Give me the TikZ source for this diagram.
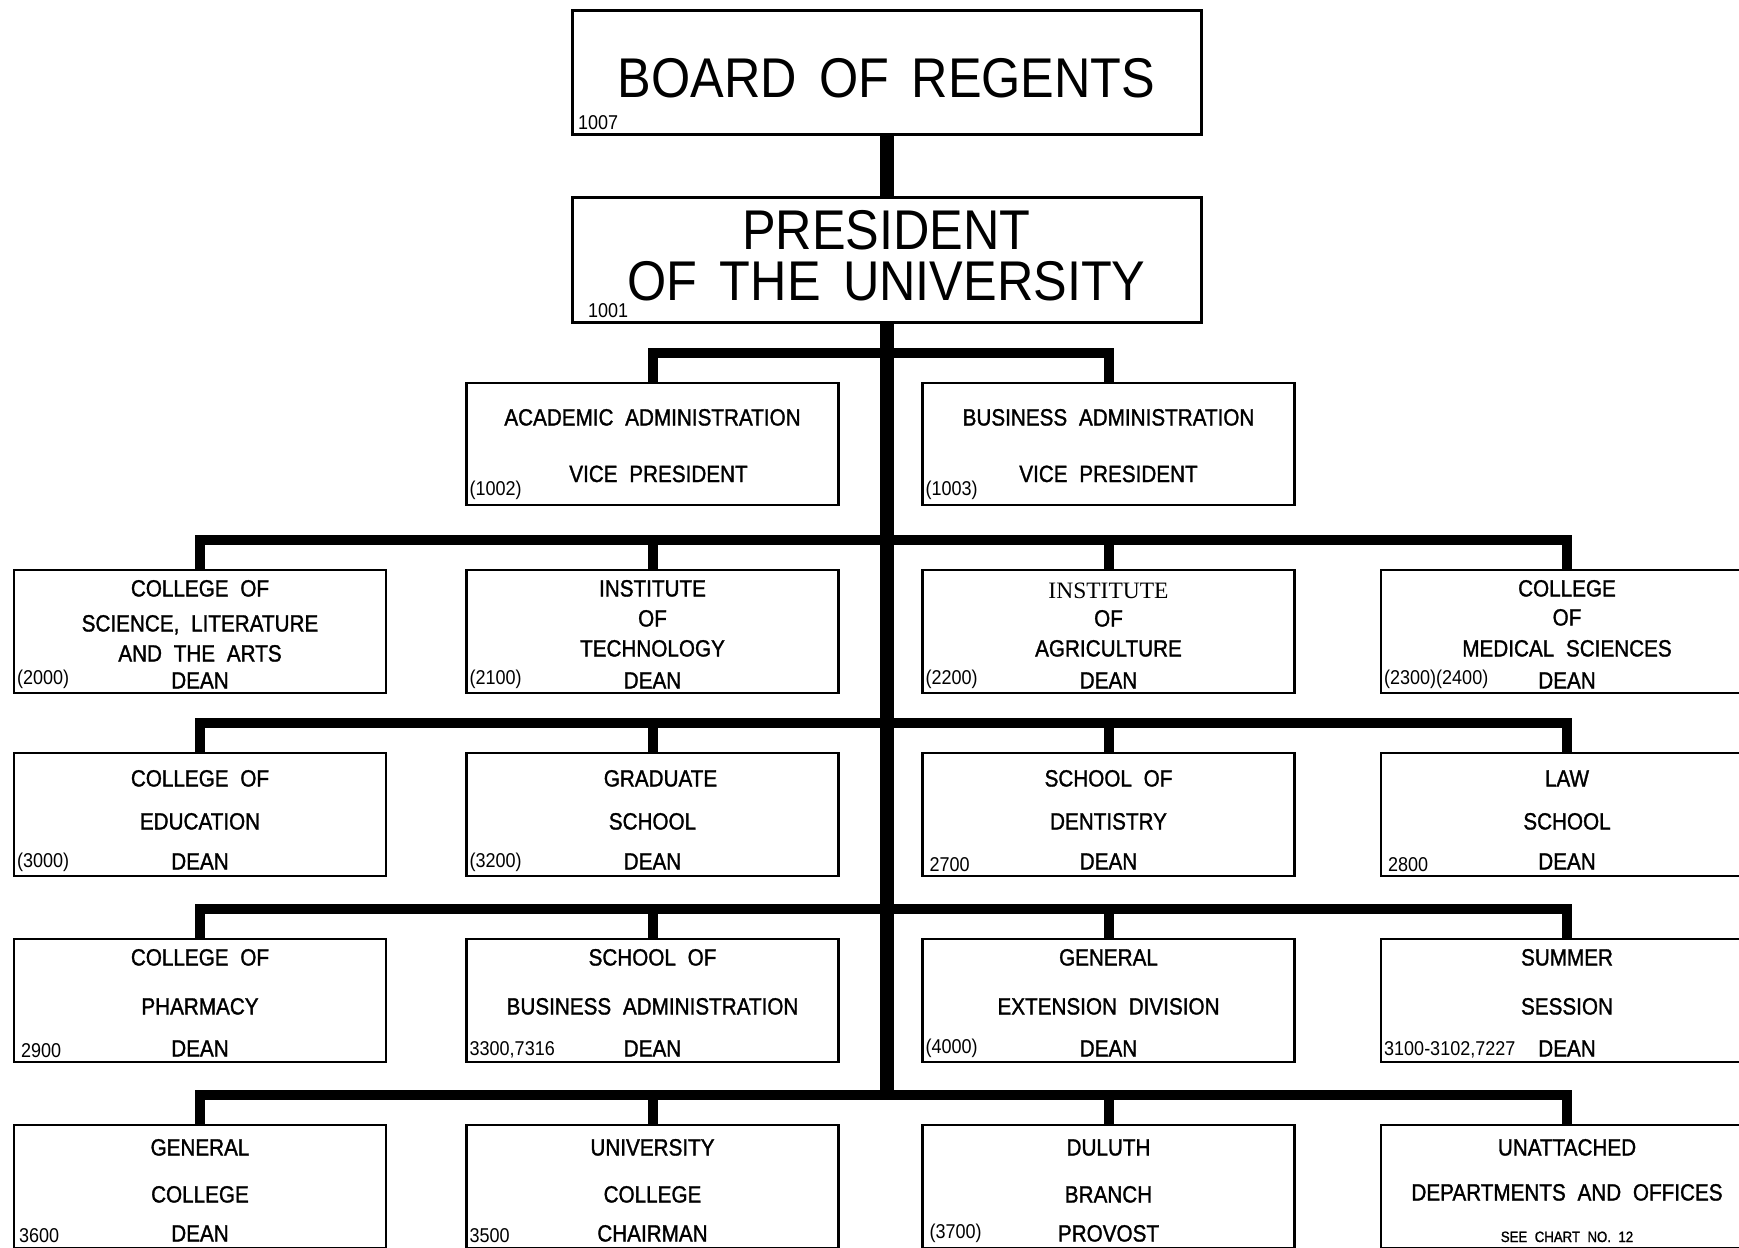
\documentclass[tikz,border=0pt]{standalone}
\usepackage{fontspec}
\setmainfont{Liberation Sans}[FakeStretch=0.9]
\newfontfamily\boldletter{Liberation Sans}[FakeStretch=0.88, FakeBold=1.3]
\newfontfamily\stampfont{Liberation Serif}
\usetikzlibrary{positioning}

\newcommand{\titlesize}{\fontsize{56}{60}\selectfont\spaceskip=0.4em\relax}
\newcommand{\textsize}{\boldletter\fontsize{23.5}{26}\selectfont\spaceskip=0.5em\relax}
\newcommand{\codesize}{\fontsize{20}{22}\selectfont}
\newcommand{\notesize}{\boldletter\fontsize{15}{17}\selectfont\spaceskip=0.5em\relax}

\begin{document}
\begin{tikzpicture}[%
    x=1pt,
    y=-1pt,
    node distance=60pt,
    spine/.style={line width=14pt},
    elbow/.style={%
      draw,
      line width=10pt,
      to path={|- ([yshift=30pt]\tikztotarget.north) -- (\tikztotarget.north)}
    },
    office/.style={%
      draw,
      line width=2.5pt,
      inner sep=0pt,
      outer sep=0pt,
      minimum width=372pt,
      minimum height=123pt
    },
    head/.style={office, line width=3pt, minimum width=629pt},
    title/.style={inner sep=0pt, font=\titlesize, text height=40pt, text depth=0pt},
    line/.style={inner sep=0pt, font=\textsize, text height=17pt, text depth=0pt},
    code/.style={inner sep=0pt, font=\codesize, anchor=south west}
  ]
    \useasboundingbox (0,0) rectangle (1739,1247);
    \clip (0,0) rectangle (1739,1247);
    \fill[white] (0,0) rectangle (1739,1247);

    % top of the chart
    \node[head] (board) at (886.5,72.5)                     {};
    \node[head] (pres)  [below=63pt of board, minimum height=125pt] {};
    \node[office] (vpA) at (652.5,444)  [minimum height=122pt]  {};
    \node[office] (vpB) at (1108.5,444) [minimum height=122pt]  {};

    % colleges and schools
    \node[office] (r1c1) at (200,631.5)                     {};
    \node[office] (r1c2) at (652.5,631.5)                   {};
    \node[office] (r1c3) at (1108.5,631.5)                  {};
    \node[office] (r1c4) at (1567,631.5)                    {};
    \node[office] (r2c1) [below=of r1c1]                    {};
    \node[office] (r2c2) [below=of r1c2]                    {};
    \node[office] (r2c3) [below=of r1c3]                    {};
    \node[office] (r2c4) [below=of r1c4]                    {};
    \node[office] (r3c1) [node distance=63pt,below=of r2c1] {};
    \node[office] (r3c2) [node distance=63pt,below=of r2c2] {};
    \node[office] (r3c3) [node distance=63pt,below=of r2c3] {};
    \node[office] (r3c4) [node distance=63pt,below=of r2c4] {};
    \node[office] (r4c1) [node distance=63pt,below=of r3c1] {};
    \node[office] (r4c2) [node distance=63pt,below=of r3c2] {};
    \node[office] (r4c3) [node distance=63pt,below=of r3c3] {};
    \node[office] (r4c4) [node distance=63pt,below=of r3c4] {};

    % texts
    \node[title] (boardA) at ([yshift=-66.5pt]board.north) {BOARD OF REGENTS};
    \node[code]  (boardN) at ([xshift=6pt,yshift=4pt]board.south west) {1007};
    \node[title] (presA)  at ([yshift=-32.5pt]pres.north)  {PRESIDENT};
    \node[title] (presB)  at ([yshift=-83.5pt]pres.north)  {OF THE UNIVERSITY};
    \node[code]  (presN)  at ([xshift=16pt,yshift=4pt]pres.south west) {1001};

    \node[line] (vpAa) at ([yshift=-34pt]vpA.north)  {ACADEMIC ADMINISTRATION};
    \node[line] (vpAb) at ([xshift=6pt,yshift=-90.5pt]vpA.north) {VICE PRESIDENT};
    \node[code] (vpAn) at ([xshift=3pt,yshift=5pt]vpA.south west) {(1002)};
    \node[line] (vpBa) at ([yshift=-34pt]vpB.north)  {BUSINESS ADMINISTRATION};
    \node[line] (vpBb) at ([yshift=-90.5pt]vpB.north) {VICE PRESIDENT};
    \node[code] (vpBn) at ([xshift=3pt,yshift=5pt]vpB.south west) {(1003)};

    \node[line] (r1c1a) at ([yshift=-18pt]r1c1.north)  {COLLEGE OF};
    \node[line] (r1c1b) at ([yshift=-53pt]r1c1.north)  {SCIENCE, LITERATURE};
    \node[line] (r1c1c) at ([yshift=-83pt]r1c1.north)  {AND THE ARTS};
    \node[line] (r1c1d) at ([yshift=-110pt]r1c1.north) {DEAN};
    \node[code] (r1c1n) at ([xshift=3pt,yshift=4pt]r1c1.south west) {(2000)};
    \node[line] (r1c2a) at ([yshift=-18pt]r1c2.north)  {INSTITUTE};
    \node[line] (r1c2b) at ([yshift=-48pt]r1c2.north)  {OF};
    \node[line] (r1c2c) at ([yshift=-78pt]r1c2.north)  {TECHNOLOGY};
    \node[line] (r1c2d) at ([yshift=-110pt]r1c2.north) {DEAN};
    \node[code] (r1c2n) at ([xshift=3pt,yshift=4pt]r1c2.south west) {(2100)};
    \node[line] (r1c3a) at ([yshift=-20pt]r1c3.north)  {\stampfont INSTITUTE};
    \node[line] (r1c3b) at ([yshift=-48pt]r1c3.north)  {OF};
    \node[line] (r1c3c) at ([yshift=-78pt]r1c3.north)  {AGRICULTURE};
    \node[line] (r1c3d) at ([yshift=-110pt]r1c3.north) {DEAN};
    \node[code] (r1c3n) at ([xshift=3pt,yshift=4pt]r1c3.south west) {(2200)};
    \node[line] (r1c4a) at ([yshift=-18pt]r1c4.north)  {COLLEGE};
    \node[line] (r1c4b) at ([yshift=-47pt]r1c4.north)  {OF};
    \node[line] (r1c4c) at ([yshift=-78pt]r1c4.north)  {MEDICAL SCIENCES};
    \node[line] (r1c4d) at ([yshift=-110pt]r1c4.north) {DEAN};
    \node[code] (r1c4n) at ([xshift=3pt,yshift=4pt]r1c4.south west) {(2300)(2400)};

    \node[line] (r2c1a) at ([yshift=-25pt]r2c1.north)  {COLLEGE OF};
    \node[line] (r2c1b) at ([yshift=-68pt]r2c1.north)  {EDUCATION};
    \node[line] (r2c1c) at ([yshift=-108pt]r2c1.north) {DEAN};
    \node[code] (r2c1n) at ([xshift=3pt,yshift=4pt]r2c1.south west) {(3000)};
    \node[line] (r2c2a) at ([xshift=8pt,yshift=-25pt]r2c2.north) {GRADUATE};
    \node[line] (r2c2b) at ([yshift=-68pt]r2c2.north)  {SCHOOL};
    \node[line] (r2c2c) at ([yshift=-108pt]r2c2.north) {DEAN};
    \node[code] (r2c2n) at ([xshift=3pt,yshift=4pt]r2c2.south west) {(3200)};
    \node[line] (r2c3a) at ([yshift=-25pt]r2c3.north)  {SCHOOL OF};
    \node[line] (r2c3b) at ([yshift=-68pt]r2c3.north)  {DENTISTRY};
    \node[line] (r2c3c) at ([yshift=-108pt]r2c3.north) {DEAN};
    \node[code] (r2c3n) at ([xshift=7pt,yshift=4pt]r2c3.south west) {2700};
    \node[line] (r2c4a) at ([yshift=-25pt]r2c4.north)  {LAW};
    \node[line] (r2c4b) at ([yshift=-68pt]r2c4.north)  {SCHOOL};
    \node[line] (r2c4c) at ([yshift=-108pt]r2c4.north) {DEAN};
    \node[code] (r2c4n) at ([xshift=7pt,yshift=4pt]r2c4.south west) {2800};

    \node[line] (r3c1a) at ([yshift=-18pt]r3c1.north)  {COLLEGE OF};
    \node[line] (r3c1b) at ([yshift=-67pt]r3c1.north)  {PHARMACY};
    \node[line] (r3c1c) at ([yshift=-109pt]r3c1.north) {DEAN};
    \node[code] (r3c1n) at ([xshift=7pt,yshift=4pt]r3c1.south west) {2900};
    \node[line] (r3c2a) at ([yshift=-18pt]r3c2.north)  {SCHOOL OF};
    \node[line] (r3c2b) at ([yshift=-67pt]r3c2.north)  {BUSINESS ADMINISTRATION};
    \node[line] (r3c2c) at ([yshift=-109pt]r3c2.north) {DEAN};
    \node[code] (r3c2n) at ([xshift=3pt,yshift=4pt]r3c2.south west) {3300,7316};
    \node[line] (r3c3a) at ([yshift=-18pt]r3c3.north)  {GENERAL};
    \node[line] (r3c3b) at ([yshift=-67pt]r3c3.north)  {EXTENSION DIVISION};
    \node[line] (r3c3c) at ([yshift=-109pt]r3c3.north) {DEAN};
    \node[code] (r3c3n) at ([xshift=3pt,yshift=4pt]r3c3.south west) {(4000)};
    \node[line] (r3c4a) at ([yshift=-18pt]r3c4.north)  {SUMMER};
    \node[line] (r3c4b) at ([yshift=-67pt]r3c4.north)  {SESSION};
    \node[line] (r3c4c) at ([yshift=-109pt]r3c4.north) {DEAN};
    \node[code] (r3c4n) at ([xshift=3pt,yshift=4pt]r3c4.south west) {3100-3102,7227};

    \node[line] (r4c1a) at ([yshift=-22pt]r4c1.north)  {GENERAL};
    \node[line] (r4c1b) at ([yshift=-69pt]r4c1.north)  {COLLEGE};
    \node[line] (r4c1c) at ([yshift=-108pt]r4c1.north) {DEAN};
    \node[code] (r4c1n) at ([xshift=5pt,yshift=5pt]r4c1.south west) {3600};
    \node[line] (r4c2a) at ([yshift=-22pt]r4c2.north)  {UNIVERSITY};
    \node[line] (r4c2b) at ([yshift=-69pt]r4c2.north)  {COLLEGE};
    \node[line] (r4c2c) at ([yshift=-108pt]r4c2.north) {CHAIRMAN};
    \node[code] (r4c2n) at ([xshift=3pt,yshift=5pt]r4c2.south west) {3500};
    \node[line] (r4c3a) at ([yshift=-22pt]r4c3.north)  {DULUTH};
    \node[line] (r4c3b) at ([yshift=-69pt]r4c3.north)  {BRANCH};
    \node[line] (r4c3c) at ([yshift=-108pt]r4c3.north) {PROVOST};
    \node[code] (r4c3n) at ([xshift=7pt,yshift=5pt]r4c3.south west) {(3700)};
    \node[line] (r4c4a) at ([yshift=-22pt]r4c4.north)  {UNATTACHED};
    \node[line] (r4c4b) at ([yshift=-67pt]r4c4.north)  {DEPARTMENTS AND OFFICES};
    \node[line, font=\notesize, text height=12pt] (r4c4c) at ([yshift=-111pt]r4c4.north) {SEE CHART NO. 12};

    % lines of authority
    \coordinate (bar4) at ([yshift=30pt]r4c1.north);
    \draw[spine] (board) -- (pres);
    \draw[spine] (pres.south) -- (pres.south |- bar4);

    \path (pres.south) edge[elbow] (vpA)
          (pres.south) edge[elbow] (vpB)
          (pres.south) edge[elbow] (r1c1)
          (pres.south) edge[elbow] (r1c2)
          (pres.south) edge[elbow] (r1c3)
          (pres.south) edge[elbow] (r1c4)
          (pres.south) edge[elbow] (r2c1)
          (pres.south) edge[elbow] (r2c2)
          (pres.south) edge[elbow] (r2c3)
          (pres.south) edge[elbow] (r2c4)
          (pres.south) edge[elbow] (r3c1)
          (pres.south) edge[elbow] (r3c2)
          (pres.south) edge[elbow] (r3c3)
          (pres.south) edge[elbow] (r3c4)
          (pres.south) edge[elbow] (r4c1)
          (pres.south) edge[elbow] (r4c2)
          (pres.south) edge[elbow] (r4c3)
          (pres.south) edge[elbow] (r4c4);
\end{tikzpicture}
\end{document}
